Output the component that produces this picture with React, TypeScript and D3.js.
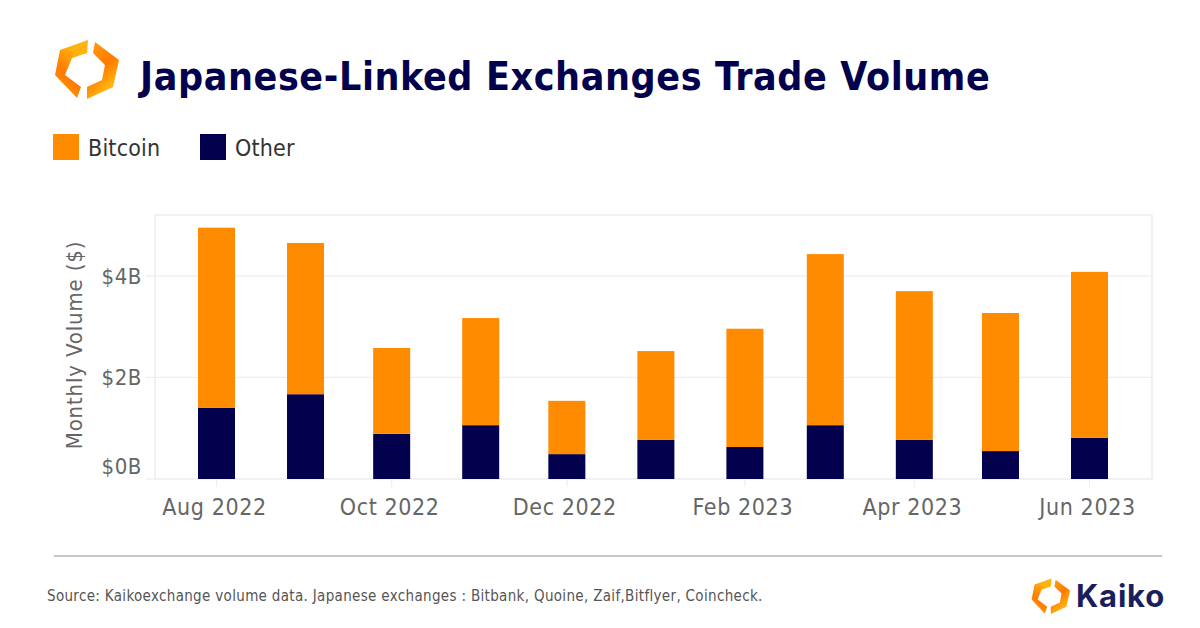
import React from "react";
import * as d3 from "d3";

const months = ["2022-08-01", "2022-09-01", "2022-10-01", "2022-11-01", "2022-12-01", "2023-01-01", "2023-02-01", "2023-03-01", "2023-04-01", "2023-05-01", "2023-06-01"].map((d) => new Date(d + "T00:00:00Z"));
const other = [1.4, 1.67, 0.89, 1.06, 0.49, 0.77, 0.63, 1.06, 0.77, 0.55, 0.81];
const bitcoin = [3.55, 2.98, 1.69, 2.11, 1.05, 1.75, 2.33, 3.37, 2.93, 2.72, 3.27];
const xTickIndex = [0, 2, 4, 6, 8, 10];
const yTicks = [0, 2, 4];
const seriesKeys = ["other", "bitcoin"];
const seriesNames = ["Bitcoin", "Other"];

const ORANGE = "#ff8c00";
const NAVY = "#03004d";
const GREY = "#666666";
const FONT = "'DejaVu Sans', sans-serif";

const width = 1200;
const height = 628;
const plot = { left: 155, right: 1152, top: 215, bottom: 479 };
const barWidth = 37;

const rows = months.map((m, i) => ({ month: m, other: other[i], bitcoin: bitcoin[i] }));
const stacked = d3.stack<any>().keys(seriesKeys)(rows);

const xScale = d3.scaleTime().domain([months[0], months[months.length - 1]]).range([216.5, 1089.5]);
const yScale = d3.scaleLinear().domain([0, 5.2]).range([plot.bottom, plot.top]);
const colors: Record<string, string> = { other: NAVY, bitcoin: ORANGE, Bitcoin: ORANGE, Other: NAVY };
const formatMonth = d3.utcFormat("%b %Y");

const Logo: React.FC<{ x: number; y: number; s: number }> = ({ x, y, s }) => {
  const id = `g${x}`;
  return (
    <g transform={`translate(${x},${y}) scale(${s})`}>
      <defs>
        <linearGradient id={`${id}a`} x1="0.75" y1="0" x2="0.25" y2="1">
          <stop offset="0.2" stopColor="#ffb30f" />
          <stop offset="0.65" stopColor="#ff7a00" />
          <stop offset="1" stopColor="#ff9a10" />
        </linearGradient>
        <linearGradient id={`${id}b`} x1="0.25" y1="0" x2="0.75" y2="1">
          <stop offset="0" stopColor="#ff9a10" />
          <stop offset="0.45" stopColor="#ff7a00" />
          <stop offset="0.8" stopColor="#ffb30f" />
        </linearGradient>
      </defs>
      <path d="M34 1 L6 11 L1 36 L23 59 L27 48 L11 36 L18 19 L33 14 Z" fill={`url(#${id}a)`} />
      <path d="M41 3 L65 21 L59 48 L33 60 L33 48 L48 41 L51 26 L39 14 Z" fill={`url(#${id}b)`} />
    </g>
  );
};

const App: React.FC = () => {
  return (
    <svg width={width} height={height} viewBox={`0 0 ${width} ${height}`} style={{ position: "absolute", left: 0, top: 0, background: "#fff", fontStretch: "condensed" }} fontFamily={FONT}>
      <Logo x={54} y={39} s={1} />
      <text x={140} y={90} fontWeight={700} fontSize={39} letterSpacing={1.2} fill={NAVY} textLength={851}>Japanese-Linked Exchanges Trade Volume</text>

      {seriesNames.map((name, i) => {
        const lx = [53, 200][i];
        return (
          <g key={name}>
            <rect x={lx} y={134} width={26} height={26} fill={colors[name]} />
            <text x={lx + 35} y={156} fontSize={23} letterSpacing={0.2} fill="#333333">{name}</text>
          </g>
        );
      })}

      <rect x={plot.left} y={plot.top} width={plot.right - plot.left} height={plot.bottom - plot.top} fill="none" stroke="#e8e8e8" strokeWidth={1.2} />
      {yTicks.map((t) => (
        <g key={t}>
          {t > 0 && <line x1={plot.left} x2={plot.right} y1={yScale(t)} y2={yScale(t)} stroke="#eeeeee" strokeWidth={1.2} />}
          <line x1={146} x2={plot.left} y1={yScale(t)} y2={yScale(t)} stroke="#eeeeee" strokeWidth={1.2} />
          <text x={142} y={yScale(t) + (t === 0 ? -5.5 : 8)} textAnchor="end" fontSize={22} letterSpacing={0.6} fill={GREY}>{`$${t}B`}</text>
        </g>
      ))}

      {stacked.map((s) => (
        <g key={s.key} fill={colors[s.key]}>
          {s.map((d, i) => (
            <rect key={i} x={xScale(months[i]) - barWidth / 2} width={barWidth} y={yScale(d[1])} height={yScale(d[0]) - yScale(d[1])} />
          ))}
        </g>
      ))}

      {xTickIndex.map((i) => {
        const cx = xScale(months[i]);
        return (
          <g key={i}>
            <line x1={cx} x2={cx} y1={plot.bottom} y2={plot.bottom + 8} stroke="#eeeeee" strokeWidth={1.2} />
            <text x={cx - 2} y={515} textAnchor="middle" fontSize={23} letterSpacing={0.6} fill={GREY}>{formatMonth(months[i])}</text>
          </g>
        );
      })}

      <text transform={`translate(82,345) rotate(-90)`} textAnchor="middle" fontSize={22} letterSpacing={0.85} fill={GREY}>Monthly Volume ($)</text>

      <line x1={54} x2={1162} y1={556} y2={556} stroke="#b5b5b5" strokeWidth={1.5} />
      <text x={47} y={601} fontSize={15} letterSpacing={0.33} fill="#555555">Source: Kaikoexchange volume data. Japanese exchanges : Bitbank, Quoine, Zaif,Bitflyer, Coincheck.</text>

      <Logo x={1031} y={578} s={0.6} />
      <text x={1076} y={607} fontFamily="Inter, sans-serif" fontWeight={700} fontSize={31} letterSpacing={0.8} fill="#1a1f5c" style={{ fontStretch: "normal" }}>Kaiko</text>
    </svg>
  );
};

export default App;
